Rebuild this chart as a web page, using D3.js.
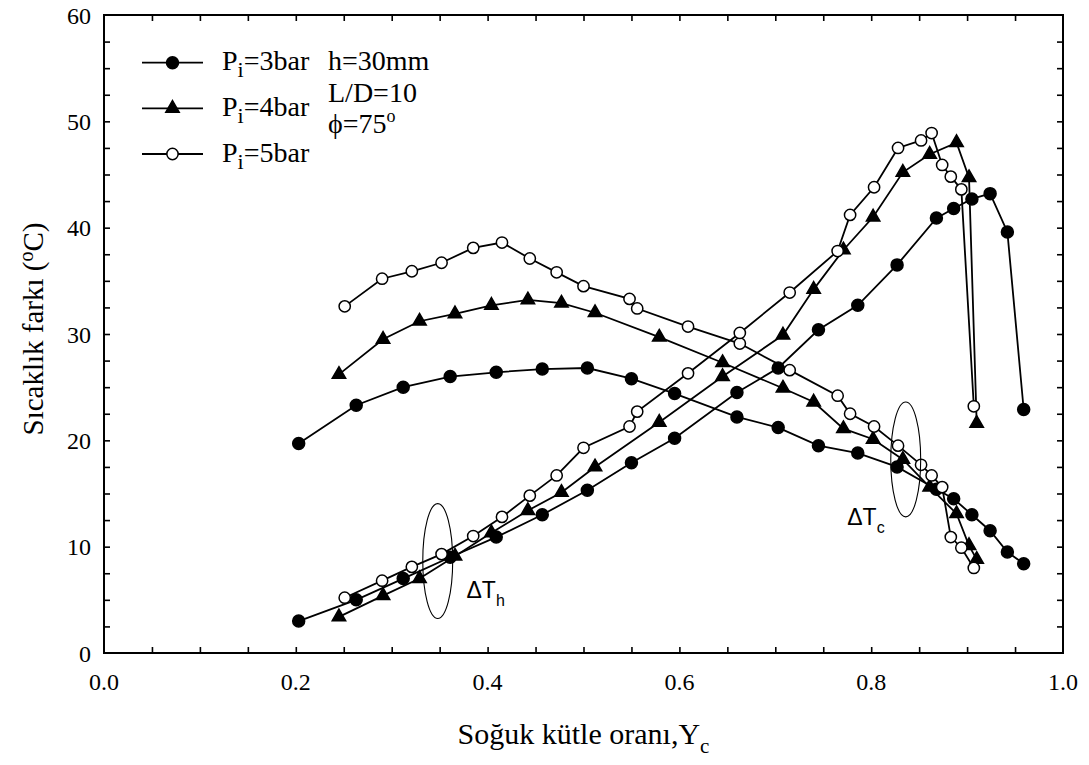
<!DOCTYPE html>
<html>
<head>
<meta charset="utf-8">
<script src="https://cdnjs.cloudflare.com/ajax/libs/d3/7.8.5/d3.min.js"></script>
<style>
    body { margin: 0; background: #fff; }
    svg { display: block; }
    .serif { font-family: "Liberation Serif", "Times New Roman", serif; }
    .sans { font-family: "Liberation Sans", Arial, sans-serif; }
</style>
</head>
<body>
<div id="chart"></div>
<script>
// Pi = 3 bar (filled circles)
let yc3 = [0.203, 0.263, 0.312, 0.361, 0.409, 0.457, 0.504, 0.550, 0.595, 0.660, 0.703, 0.745, 0.786, 0.827, 0.868, 0.886, 0.905, 0.924, 0.942, 0.959];
let cold3 = [19.7, 23.3, 25.0, 26.0, 26.4, 26.7, 26.8, 25.8, 24.4, 22.2, 21.2, 19.5, 18.8, 17.5, 15.4, 14.5, 13.0, 11.5, 9.5, 8.4];
let hot3 = [3.0, 5.0, 7.0, 9.0, 10.9, 13.0, 15.3, 17.9, 20.2, 24.5, 26.8, 30.4, 32.7, 36.5, 40.9, 41.8, 42.7, 43.2, 39.6, 22.9];

// Pi = 4 bar (filled triangles)
let yc4 = [0.245, 0.291, 0.329, 0.366, 0.404, 0.442, 0.477, 0.512, 0.579, 0.645, 0.708, 0.740, 0.771, 0.802, 0.833, 0.861, 0.889, 0.902, 0.910];
let cold4 = [26.2, 29.5, 31.2, 31.9, 32.7, 33.2, 32.9, 32.0, 29.7, 27.3, 24.9, 23.6, 21.1, 20.1, 18.2, 15.6, 13.1, 10.1, 8.8];
let hot4 = [3.4, 5.4, 7.0, 9.1, 11.3, 13.4, 15.1, 17.5, 21.7, 26.0, 29.9, 34.2, 37.9, 41.0, 45.2, 46.9, 48.0, 44.7, 21.6];

// Pi = 5 bar (open circles)
let yc5 = [0.251, 0.290, 0.321, 0.352, 0.385, 0.415, 0.444, 0.472, 0.500, 0.548, 0.556, 0.609, 0.663, 0.715, 0.765, 0.778, 0.803, 0.828, 0.852, 0.863, 0.874, 0.883, 0.894, 0.907];
let cold5 = [32.6, 35.2, 35.9, 36.7, 38.1, 38.6, 37.1, 35.8, 34.5, 33.3, 32.4, 30.7, 29.1, 26.6, 24.2, 22.5, 21.3, 19.5, 17.7, 16.7, 15.6, 10.9, 9.9, 8.0];
let hot5 = [5.2, 6.8, 8.1, 9.3, 11.0, 12.8, 14.8, 16.7, 19.3, 21.3, 22.7, 26.3, 30.1, 33.9, 37.8, 41.2, 43.8, 47.5, 48.2, 48.9, 45.9, 44.8, 43.6, 23.2];

let pressures = ["3bar", "4bar", "5bar"];
let infoLines = ["h=30mm", "L/D=10", "ϕ=75"];
let xTickValues = [0, 0.2, 0.4, 0.6, 0.8, 1.0];
let yTickValues = [0, 10, 20, 30, 40, 50, 60];

let width = 1089, height = 765;
let margin = {top: 15, right: 26, bottom: 112, left: 104};

let svg = d3.select("#chart").append("svg")
    .attr("width", width)
    .attr("height", height);

let x = d3.scaleLinear().domain([0, 1]).range([margin.left, width - margin.right]);
let y = d3.scaleLinear().domain([0, 60]).range([height - margin.bottom, margin.top]);

// minor/major ticks, all pointing inside
let xMinor = d3.range(1, 20).map(i => i * 0.05);
let yMinor = d3.range(1, 24).map(i => i * 2.5);

function tickAxis(axis, tx, ty) {
    let g = svg.append("g")
        .attr("transform", "translate(" + tx + "," + ty + ")")
        .call(axis);
    g.select(".domain").remove();
    g.selectAll("line").attr("stroke", "#000").attr("stroke-width", 1.6);
}
tickAxis(d3.axisBottom(x).tickValues(xMinor).tickSize(-6).tickFormat(""), 0, y(0));
tickAxis(d3.axisTop(x).tickValues(xMinor).tickSize(-6).tickFormat(""), 0, y(60));
tickAxis(d3.axisLeft(y).tickValues(yMinor).tickSize(-6).tickFormat(""), x(0), 0);
tickAxis(d3.axisRight(y).tickValues(yMinor).tickSize(-6).tickFormat(""), x(1), 0);

svg.append("rect")
    .attr("x", x(0))
    .attr("y", y(60))
    .attr("width", x(1) - x(0))
    .attr("height", y(0) - y(60))
    .attr("fill", "none")
    .attr("stroke", "#000")
    .attr("stroke-width", 2);

// tick labels
svg.selectAll(".xlab").data(xTickValues).enter().append("text")
    .attr("class", "serif")
    .attr("x", d => x(d))
    .attr("y", y(0) + 37)
    .attr("text-anchor", "middle")
    .attr("font-size", 24)
    .text(d => d3.format(".1f")(d));

svg.selectAll(".ylab").data(yTickValues).enter().append("text")
    .attr("class", "serif")
    .attr("x", x(0) - 13)
    .attr("y", d => y(d) + 8.5)
    .attr("text-anchor", "end")
    .attr("font-size", 24)
    .text(d => d);

// axis titles
let xt = svg.append("text")
    .attr("class", "serif")
    .attr("x", (x(0) + x(1)) / 2)
    .attr("y", 744)
    .attr("text-anchor", "middle")
    .attr("font-size", 30);
xt.append("tspan").text("Soğuk kütle oranı,Y");
xt.append("tspan").attr("font-size", 21).attr("dy", 9).text("c");

let yt = svg.append("text")
    .attr("class", "serif")
    .attr("transform", "translate(43," + ((y(0) + y(60)) / 2 - 5) + ") rotate(-90)")
    .attr("text-anchor", "middle")
    .attr("font-size", 29);
yt.append("tspan").text("Sıcaklık farkı (");
yt.append("tspan").attr("font-size", 20).attr("dy", -10).text("o");
yt.append("tspan").attr("dy", 10).text("C)");

// series
let series = [
    {name: pressures[0], xs: yc3, cold: cold3, hot: hot3, shape: d3.symbolCircle, size: 113, fill: "#000"},
    {name: pressures[1], xs: yc4, cold: cold4, hot: hot4, shape: d3.symbolTriangle, size: 78, fill: "#000"},
    {name: pressures[2], xs: yc5, cold: cold5, hot: hot5, shape: d3.symbolCircle, size: 100, fill: "#fff"}
];

let line = d3.line().x(d => x(d[0])).y(d => y(d[1]));

series.forEach(function(s) {
    ["cold", "hot"].forEach(function(k) {
        let pts = s.xs.map((v, i) => [v, s[k][i]]);
        svg.append("path")
            .datum(pts)
            .attr("d", line)
            .attr("fill", "none")
            .attr("stroke", "#000")
            .attr("stroke-width", 1.8);
    });
});

series.forEach(function(s) {
    ["cold", "hot"].forEach(function(k) {
        let pts = s.xs.map((v, i) => [v, s[k][i]]);
        svg.append("g").selectAll("path").data(pts).enter().append("path")
            .attr("transform", d => "translate(" + x(d[0]) + "," + y(d[1]) + ")")
            .attr("d", d3.symbol().type(s.shape).size(s.size))
            .attr("fill", s.fill)
            .attr("stroke", "#000")
            .attr("stroke-width", 1.5);
    });
});

// ellipses marking the two groups of curves
let marks = [
    {cx: 0.348, cy: 8.65, label: "h", lx: 0.378, ly: 5.2},
    {cx: 0.836, cy: 18.2, label: "c", lx: 0.775, ly: 12.0}
];
marks.forEach(function(m) {
    svg.append("ellipse")
        .attr("cx", x(m.cx))
        .attr("cy", y(m.cy))
        .attr("rx", x(0.0156) - x(0))
        .attr("ry", y(0) - y(5.4))
        .attr("fill", "none")
        .attr("stroke", "#000")
        .attr("stroke-width", 1.1);
    let t = svg.append("text")
        .attr("class", "sans")
        .attr("x", x(m.lx))
        .attr("y", y(m.ly))
        .attr("font-size", 23);
    t.append("tspan").text("ΔT");
    t.append("tspan").attr("font-size", 16).attr("dy", 8).text(m.label);
});

// legend
let legendRows = [62.7, 108.3, 154];
series.forEach(function(s, i) {
    let ly = legendRows[i];
    svg.append("line")
        .attr("x1", 142).attr("x2", 203)
        .attr("y1", ly).attr("y2", ly)
        .attr("stroke", "#000")
        .attr("stroke-width", 1.8);
    svg.append("path")
        .attr("transform", "translate(172.5," + ly + ")")
        .attr("d", d3.symbol().type(s.shape).size(s.size))
        .attr("fill", s.fill)
        .attr("stroke", "#000")
        .attr("stroke-width", 1.5);
    let t = svg.append("text")
        .attr("class", "serif")
        .attr("x", 222)
        .attr("y", ly + 7.5)
        .attr("font-size", 28);
    t.append("tspan").text("P");
    t.append("tspan").attr("font-size", 22).attr("dy", 7).text("i");
    t.append("tspan").attr("dy", -7).text("=" + s.name);
});

let infoY = [70, 101.7, 133];
infoLines.forEach(function(txt, i) {
    let t = svg.append("text")
        .attr("class", "serif")
        .attr("x", 328)
        .attr("y", infoY[i])
        .attr("font-size", 28);
    t.append("tspan").text(txt);
    if (i === 2) {
        t.append("tspan").attr("font-size", 18).attr("dy", -11).text("o");
    }
});
</script>
</body>
</html>
